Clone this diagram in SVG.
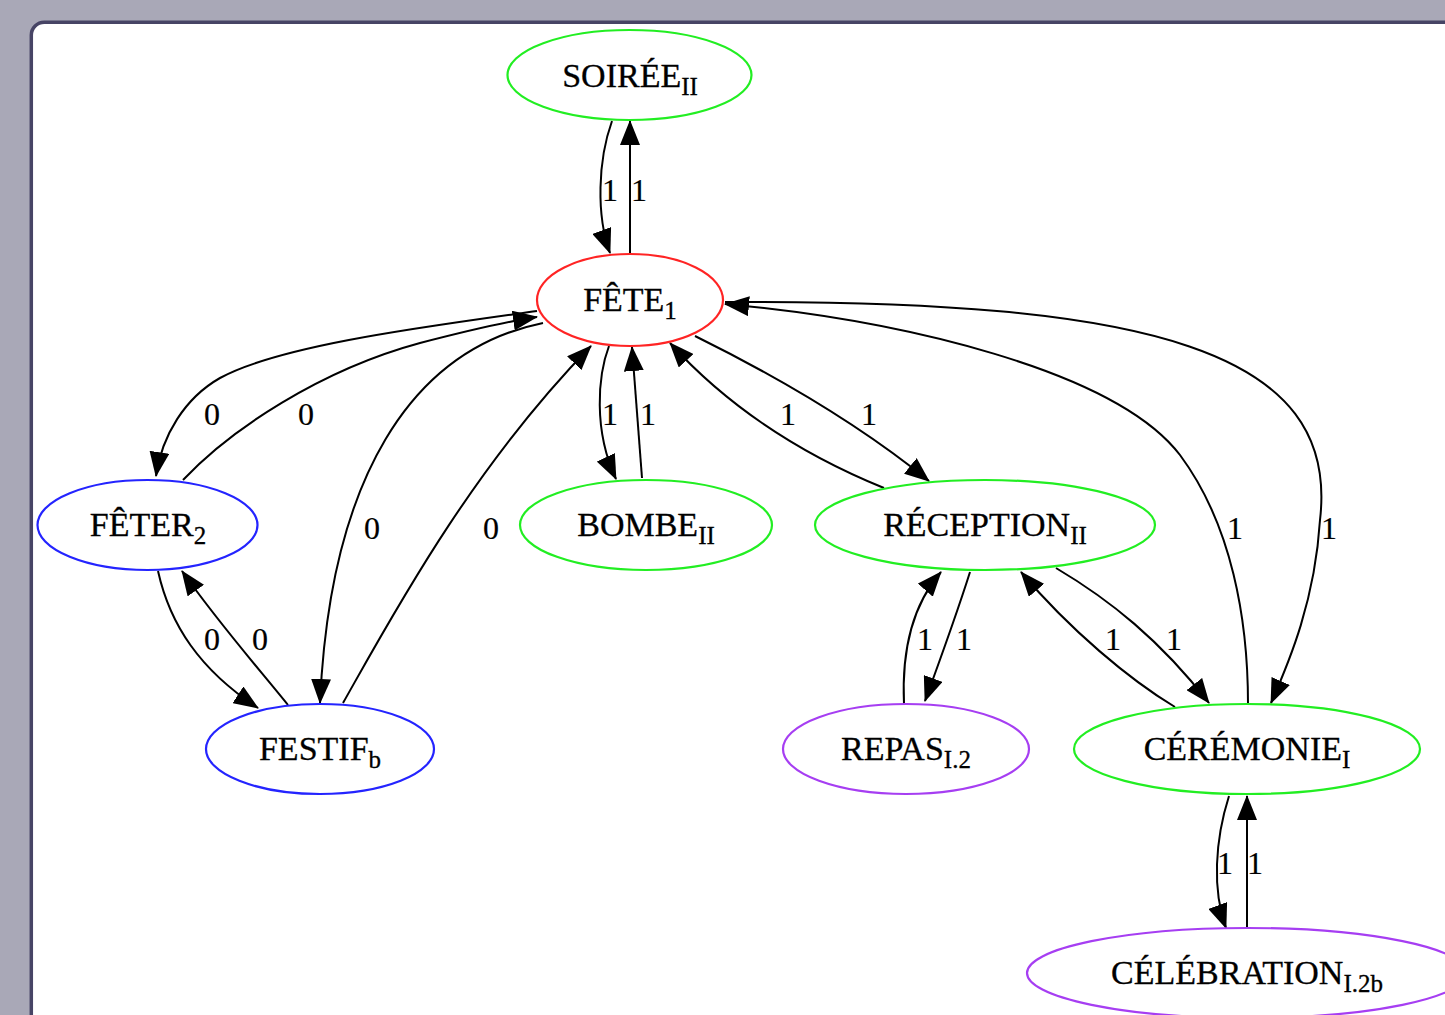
<svg xmlns="http://www.w3.org/2000/svg" width="1445" height="1015" viewBox="0 0 1445 1015">
<style>
.n{fill:none;stroke-width:2.2}
.g{stroke:#22ee22}.r{stroke:#ff2424}.b{stroke:#2424ff}.p{stroke:#a63ef2}
.t{font-family:"Liberation Serif","Times New Roman",serif;font-size:34px;fill:#000;stroke:#000;stroke-width:0.3;text-anchor:middle}
.s{font-size:25px}
.e path{fill:none;stroke:#000;stroke-width:2;marker-end:url(#ah)}
.l{font-family:"Liberation Serif","Times New Roman",serif;font-size:32px;fill:#000;stroke:#000;stroke-width:0.2;text-anchor:middle}
</style>
<defs>
<marker id="ah" viewBox="0 0 25 20" markerWidth="25" markerHeight="20" refX="24" refY="10" orient="auto" markerUnits="userSpaceOnUse"><path d="M0,0 L25,10 L0,20 z" fill="#000"/></marker>
</defs>
<rect x="0" y="0" width="1445" height="1015" fill="#a9a8b7"/>
<rect x="31.3" y="22.3" width="1500" height="1100" rx="13" fill="#fff" stroke="#474465" stroke-width="3.5"/>

<g id="edges" class="e">
<path d="M612,121 C598,160 596,215 610,253"/>
<path d="M630,254 L630,121"/>
<path d="M537,311 C430,326 280,345 220,378 C185,398 162,435 156,476"/>
<path d="M183,480 C230,430 320,370 420,343 C470,330 510,321 537,317"/>
<path d="M543,323 C410,350 330,480 320,703"/>
<path d="M343,703 C390,620 470,470 591,346"/>
<path d="M609,346 C598,375 593,430 616,479"/>
<path d="M642,478 L632,347"/>
<path d="M884,488 C820,462 740,420 670,343"/>
<path d="M695,336 C780,378 860,425 929,481"/>
<path d="M1248,704 C1248,620 1232,525 1180,455 C1115,370 900,320 725,304"/>
<path d="M725,302 C1150,300 1340,350 1320,520 C1315,600 1290,660 1271,703"/>
<path d="M158,571 C170,625 200,670 258,708"/>
<path d="M288,705 C260,670 220,625 182,571"/>
<path d="M904,704 C902,660 908,610 941,572"/>
<path d="M970,572 C958,610 940,660 925,701"/>
<path d="M1175,707 C1130,680 1070,630 1021,572"/>
<path d="M1056,568 C1110,600 1160,640 1209,703"/>
<path d="M1229,796 C1215,840 1212,890 1226,928"/>
<path d="M1247,928 L1247,796"/>
<g id="edge-labels">
<text class="l" x="610" y="201">1</text><text class="l" x="639" y="201">1</text>
<text class="l" x="212" y="425">0</text><text class="l" x="306" y="425">0</text>
<text class="l" x="610" y="425">1</text><text class="l" x="648" y="425">1</text>
<text class="l" x="788" y="425">1</text><text class="l" x="869" y="425">1</text>
<text class="l" x="372" y="539">0</text><text class="l" x="491" y="539">0</text>
<text class="l" x="1235" y="539">1</text><text class="l" x="1329" y="539">1</text>
<text class="l" x="212" y="650">0</text><text class="l" x="260" y="650">0</text>
<text class="l" x="925" y="650">1</text><text class="l" x="964" y="650">1</text>
<text class="l" x="1113" y="650">1</text><text class="l" x="1174" y="650">1</text>
<text class="l" x="1225" y="874">1</text><text class="l" x="1255" y="874">1</text>
</g>
</g>

<g id="soiree"><ellipse class="n g" cx="629.5" cy="75" rx="122" ry="45"/><text class="t" x="630" y="87">SOIRÉE<tspan class="s" dy="8">II</tspan></text></g>
<g id="fete"><ellipse class="n r" cx="630" cy="300" rx="93" ry="46"/><text class="t" x="630" y="311">FÊTE<tspan class="s" dy="8">1</tspan></text></g>
<g id="feter"><ellipse class="n b" cx="147.5" cy="525" rx="110" ry="45"/><text class="t" x="148" y="536">FÊTER<tspan class="s" dy="8">2</tspan></text></g>
<g id="festif"><ellipse class="n b" cx="320" cy="749" rx="114" ry="45"/><text class="t" x="320" y="760">FESTIF<tspan class="s" dy="8">b</tspan></text></g>
<g id="bombe"><ellipse class="n g" cx="646" cy="525" rx="126" ry="45"/><text class="t" x="646" y="536">BOMBE<tspan class="s" dy="8">II</tspan></text></g>
<g id="reception"><ellipse class="n g" cx="985" cy="525" rx="170" ry="45"/><text class="t" x="985" y="536">RÉCEPTION<tspan class="s" dy="8">II</tspan></text></g>
<g id="repas"><ellipse class="n p" cx="906" cy="749" rx="123" ry="45"/><text class="t" x="906" y="760">REPAS<tspan class="s" dy="8">I.2</tspan></text></g>
<g id="ceremonie"><ellipse class="n g" cx="1247" cy="749" rx="173" ry="45"/><text class="t" x="1247" y="760">CÉRÉMONIE<tspan class="s" dy="8">I</tspan></text></g>
<g id="celebration"><ellipse class="n p" cx="1247" cy="973" rx="220" ry="45"/><text class="t" x="1247" y="984">CÉLÉBRATION<tspan class="s" dy="8">I.2b</tspan></text></g>
</svg>
